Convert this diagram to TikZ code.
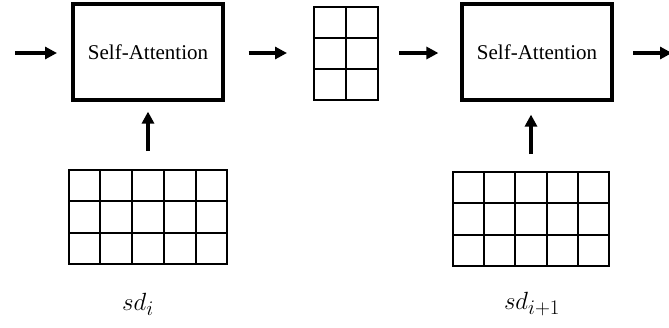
\documentclass[tikz,border=0pt]{standalone}
\usepackage{fontspec}
\setmainfont{Liberation Serif}
\usetikzlibrary{arrows.meta,calc}
\begin{document}
\begin{tikzpicture}[x=1pt,y=-1pt,
  sabox/.style={draw,line width=3.2pt,minimum width=150pt,minimum height=96pt,inner sep=0pt,font=\fontsize{21}{24}\selectfont},
  gridbox/.style={draw,line width=2pt,inner sep=0pt},
  gridline/.style={line width=2pt},
  flow/.style={line width=3.6pt,-{Triangle[length=12pt,width=12pt]}},
  lbl/.style={inner sep=0pt,font=\fontsize{30}{34}\selectfont}]
\useasboundingbox (0,0) rectangle (669,327);
% main blocks
\node[sabox] (box1) at (148,52) {Self-Attention};
\node[sabox] (box2) at (537,52) {Self-Attention};
% grids
\node[gridbox,minimum width=64pt,minimum height=93pt] (mid) at (346,53.5) {};
\node[gridbox,minimum width=158pt,minimum height=94pt] (g1) at (148,217) {};
\node[gridbox,minimum width=156pt,minimum height=94pt] (g2) at (531,219) {};
% grid lines
\draw[gridline] (mid.north) -- (mid.south);
\foreach \k in {1,2}{
  \draw[gridline] ($(mid.north west)!\k/3!(mid.south west)$) -- ($(mid.north east)!\k/3!(mid.south east)$);
  \draw[gridline] ($(g1.north west)!\k/3!(g1.south west)$) -- ($(g1.north east)!\k/3!(g1.south east)$);
  \draw[gridline] ($(g2.north west)!\k/3!(g2.south west)$) -- ($(g2.north east)!\k/3!(g2.south east)$);
}
\foreach \k in {1,2,3,4}{
  \draw[gridline] ($(g1.north west)!\k/5!(g1.north east)$) -- ($(g1.south west)!\k/5!(g1.south east)$);
  \draw[gridline] ($(g2.north west)!\k/5!(g2.north east)$) -- ($(g2.south west)!\k/5!(g2.south east)$);
}
% labels
\node[lbl] (l1) at (138,304) {$sd_i$};
\node[lbl] (l2) at (532,304) {$sd_{i+1}$};
% connectors
\coordinate (inS) at (15,53);
\coordinate (inE) at (57,53);
\coordinate (outS) at (633,53);
\coordinate (outE) at (672,53);
\draw[flow] (inS) -- (inE);
\draw[flow,shorten <=24pt,shorten >=26pt] (box1.east |- 0,53) -- (mid.west |- 0,53);
\draw[flow,shorten <=20pt,shorten >=22pt] (mid.east |- 0,53) -- (box2.west |- 0,53);
\draw[flow] (outS) -- (outE);
\draw[flow,shorten <=18pt,shorten >=10pt] (g1.north) -- (g1.north |- box1.south);
\draw[flow,shorten <=17pt,shorten >=13pt] (g2.north) -- (g2.north |- box2.south);
\end{tikzpicture}
\end{document}
